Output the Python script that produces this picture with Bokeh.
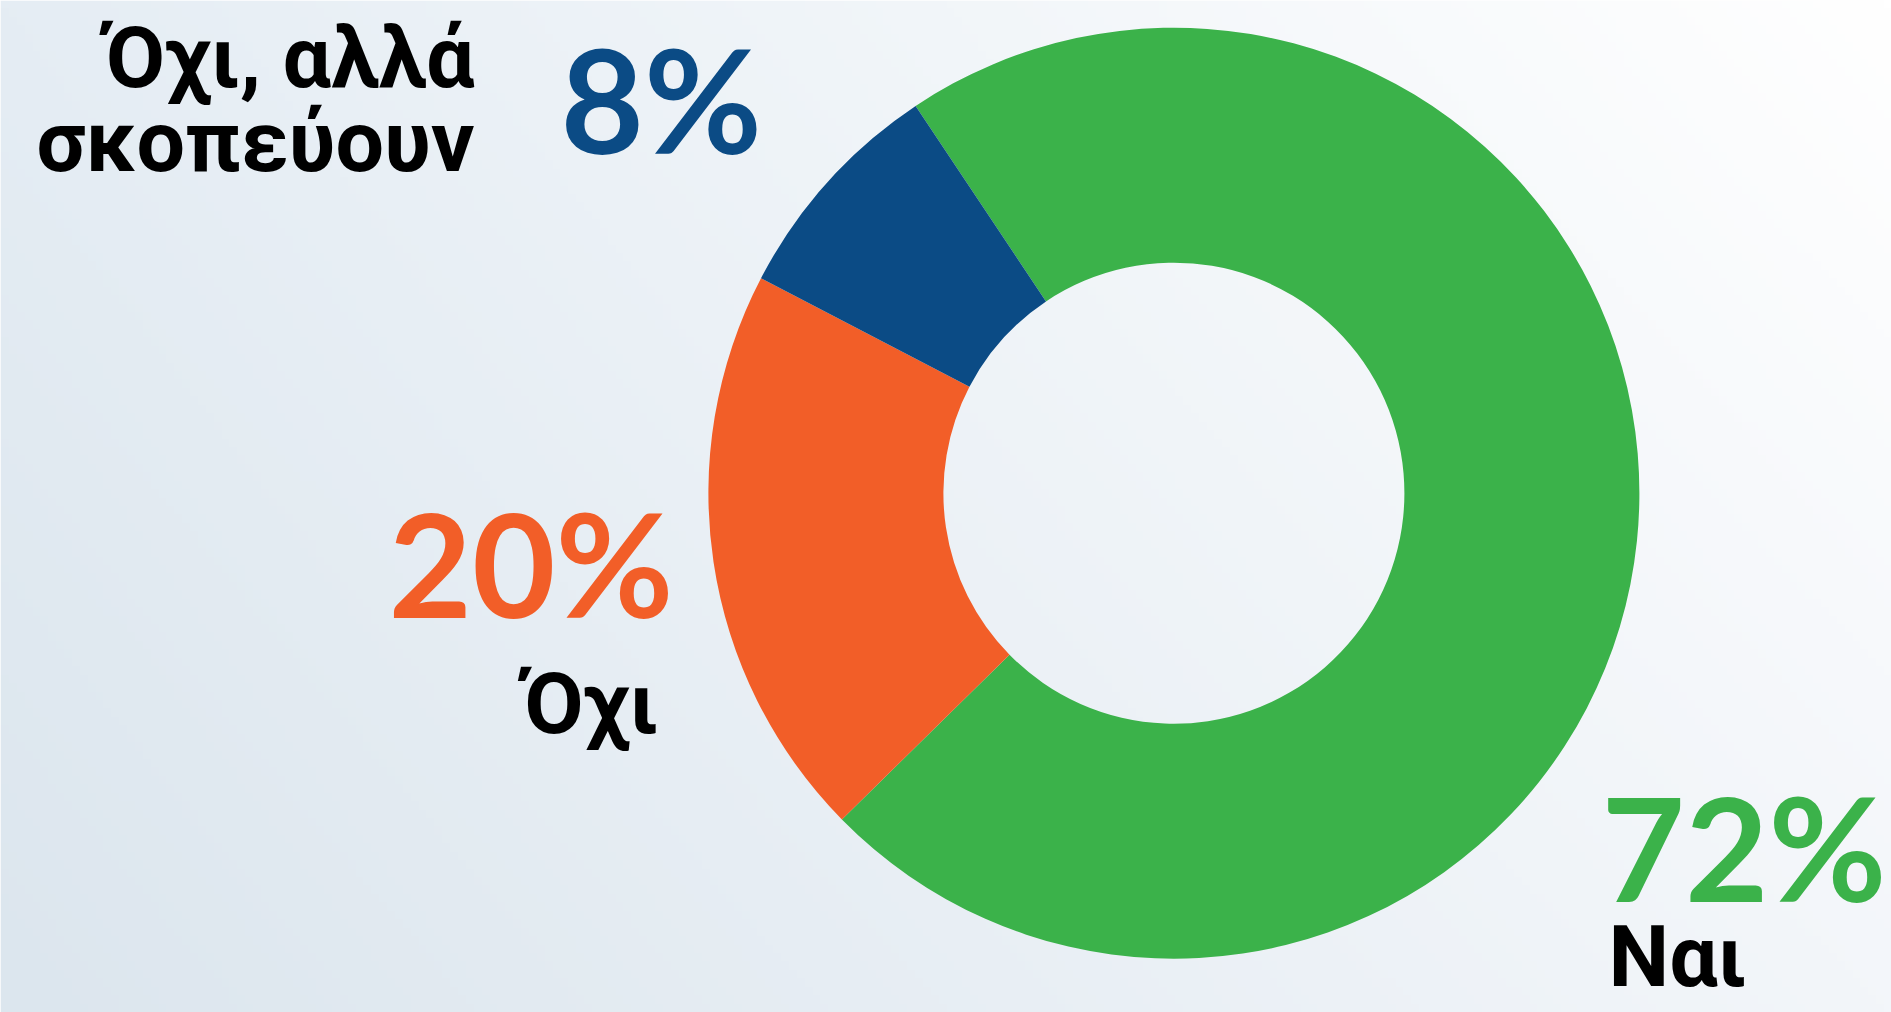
import numpy as np
from bokeh.plotting import figure
from bokeh.models import Range1d
from bokeh.core.properties import value
from bokeh.embed import file_html
from bokeh.resources import INLINE

# ---- data ----
categories = ["Ναι", "Όχι", "Όχι, αλλά σκοπεύουν"]
label_lines = [["Ναι"], ["Όχι"], ["Όχι, αλλά", "σκοπεύουν"]]
values = [72, 20, 8]
colors = ["#3BB24A", "#F25E28", "#0B4B85"]

# ---- layout (page pixels, origin top-left) ----
W, H = 1891, 1012
CX, CY = 1173.4, 492.7
R_OUT, R_IN = 465.5, 230.5
START_DEG = 123.7
PCT_FONT, PCT_PX, PCT_OFF = "Lato", 144, 0.385
LBL_FONT, LBL_PX, LBL_OFF = "Roboto", 86, 0.33
LINE_STEP = 84
# (pct_x, pct_baseline, pct_align, lbl_x, lbl_baseline, lbl_align)
anchors = [
    (1601, 901, "left", 1608, 984, "left"),
    (673, 617.5, "right", 658, 731, "right"),
    (560, 153.2, "left", 474, 85.6, "right"),
]

p = figure(width=W, height=H, x_range=Range1d(0, W), y_range=Range1d(0, H),
           output_backend="svg", toolbar_location=None, min_border=0)
p.axis.visible = False
p.grid.visible = False
p.outline_line_color = None
p.border_fill_color = "#ffffff"
p.background_fill_color = "#ffffff"

# background gradient
nx, ny = 240, 120
u = np.linspace(0, 1, nx)[None, :, None]
v = np.linspace(0, 1, ny)[:, None, None]
bl = np.array([220, 230, 238], float)
tl = np.array([229, 237, 244], float)
tr = np.array([255, 255, 255], float)
br = np.array([243, 246, 250], float)
col = bl * (1 - u) * (1 - v) + br * u * (1 - v) + tl * (1 - u) * v + tr * u * v
img = np.empty((ny, nx), dtype=np.uint32)
view = img.view(dtype=np.uint8).reshape((ny, nx, 4))
view[..., :3] = np.clip(col, 0, 255).astype(np.uint8)
view[..., 3] = 255
p.image_rgba(image=[img], x=0, y=0, dw=W, dh=H)

# donut
cum = np.cumsum([0] + values) / sum(values) * 2 * np.pi
start = np.deg2rad(START_DEG) - cum[:-1]
end = np.deg2rad(START_DEG) - cum[1:]
p.annular_wedge(x=CX, y=H - CY, inner_radius=R_IN, outer_radius=R_OUT,
                start_angle=list(end), end_angle=list(start), direction="anticlock",
                fill_color=colors, line_color=None)

# labels
for cat_lines, v_, c, a in zip(label_lines, values, colors, anchors):
    px, py, pal, lx, ly, lal = a
    p.text(x=[px], y=[H - py + PCT_OFF * PCT_PX], text=[f"{v_}%"], text_color=c,
           text_font=value(PCT_FONT), text_font_style="bold",
           text_font_size=f"{PCT_PX}px", text_align=pal, text_baseline="alphabetic")
    for i, line in enumerate(cat_lines):
        p.text(x=[lx], y=[H - (ly + i * LINE_STEP) + LBL_OFF * LBL_PX], text=[line],
               text_color="#000000", text_font=value(LBL_FONT), text_font_style="bold",
               text_font_size=f"{LBL_PX}px", text_align=lal, text_baseline="alphabetic")

open("out.html", "w").write(file_html(p, INLINE))
